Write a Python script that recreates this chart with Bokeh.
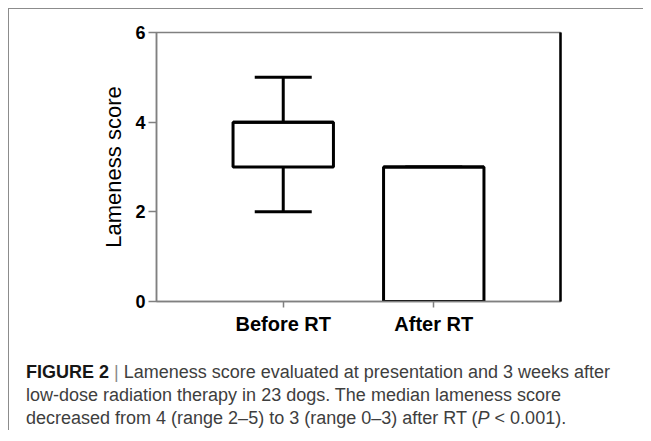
from bokeh.plotting import figure
from bokeh.models import (FactorRange, Range1d, FixedTicker, LinearAxis, Whisker, TeeHead,
                          ColumnDataSource, Div)
from bokeh.layouts import column
from bokeh.transform import dodge
from bokeh.embed import file_html
from bokeh.resources import INLINE

# ---- data ----
groups = ["Before RT", "After RT"]
lower = [2, 0]
q1 = [3, 0]
median = [4, 3]
q3 = [4, 3]
upper = [5, 3]
y_ticks = [0, 2, 4, 6]
y_label = "Lameness score"

caption_bold = "FIGURE 2"
caption_lines = [
    "Lameness score evaluated at presentation and 3 weeks after",
    "low-dose radiation therapy in 23 dogs. The median lameness score",
    "decreased from 4 (range 2\u20135) to 3 (range 0\u20133) after RT (",
]
caption_italic = "P"
caption_end = " &lt; 0.001)."

src = ColumnDataSource(dict(g=groups, lower=lower, q1=q1, median=median, q3=q3, upper=upper))

FONT = "Liberation Sans"
AX_GRAY = "#808080"

p = figure(x_range=FactorRange(*groups, range_padding=0.342, range_padding_units="absolute"),
           y_range=Range1d(0, 6),
           frame_width=404, frame_height=269,
           min_border_left=147, min_border_right=83, min_border_top=23, min_border_bottom=52,
           output_backend="svg", toolbar_location=None,
           background_fill_color="white", border_fill_color="white")

p.xgrid.grid_line_color = None
p.ygrid.grid_line_color = None
p.outline_line_color = AX_GRAY
p.outline_line_width = 1.5

# whiskers (under the box)
wk = Whisker(base="g", lower="lower", upper="upper", source=src, level="underlay",
             line_color="black", line_width=3,
             upper_head=TeeHead(size=57, line_color="black", line_width=3),
             lower_head=TeeHead(size=57, line_color="black", line_width=3))
p.add_layout(wk)

# box
p.vbar(x="g", bottom="q1", top="q3", width=0.667, source=src,
       fill_color="white", line_color="black", line_width=3)
# median line
p.segment(x0=dodge("g", -0.3335, range=p.x_range), x1=dodge("g", 0.3335, range=p.x_range),
          y0="median", y1="median", source=src, line_color="black", line_width=3)

# y axis
ya = p.yaxis[0]
ya.ticker = FixedTicker(ticks=y_ticks)
ya.axis_line_color = AX_GRAY
ya.axis_line_width = 1.5
ya.major_tick_line_color = AX_GRAY
ya.major_tick_line_width = 1.5
ya.major_tick_out = 8
ya.major_tick_in = 0
ya.minor_tick_line_color = None
ya.major_label_text_font = FONT
ya.major_label_text_font_style = "bold"
ya.major_label_text_font_size = "18px"
ya.major_label_text_color = "black"
ya.major_label_standoff = 3
ya.axis_label = y_label
ya.axis_label_text_font = FONT
ya.axis_label_text_font_style = "normal"
ya.axis_label_text_font_size = "22px"
ya.axis_label_text_color = "black"
ya.axis_label_standoff = 6

# x axis
xa = p.xaxis[0]
xa.axis_line_color = AX_GRAY
xa.axis_line_width = 1.5
xa.major_tick_line_color = AX_GRAY
xa.major_tick_line_width = 1.5
xa.major_tick_out = 6
xa.major_tick_in = 0
xa.major_label_text_font = FONT
xa.major_label_text_font_style = "bold"
xa.major_label_text_font_size = "20px"
xa.major_label_text_color = "black"
xa.major_label_standoff = 5

# right frame edge (black)
ra = LinearAxis(axis_line_color="black", axis_line_width=2.5,
                major_tick_line_color=None, minor_tick_line_color=None,
                major_label_text_font_size="0px", major_label_text_color=None)
p.add_layout(ra, "right")

html = (f'<b style="color:#161616">{caption_bold}</b> '
        f'<span style="color:#8a8a8a">|</span> {caption_lines[0]}<br>'
        f'{caption_lines[1]}<br>'
        f'{caption_lines[2]}<i>{caption_italic}</i>{caption_end}')
cap = Div(text=html, width=617,
          styles={"font-family": FONT, "font-size": "18px", "line-height": "23px",
                  "color": "#3e3e3e", "padding-left": "17px", "padding-top": "8px",
                  "margin": "0px"})

lay = column(p, cap, spacing=0,
             styles={"border-left": "1.5px solid #8c8c8c", "border-top": "1.5px solid #8c8c8c",
                     "background-color": "white", "margin-left": "8px", "margin-top": "8px"})

open("out.html", "w").write(file_html(lay, INLINE))
